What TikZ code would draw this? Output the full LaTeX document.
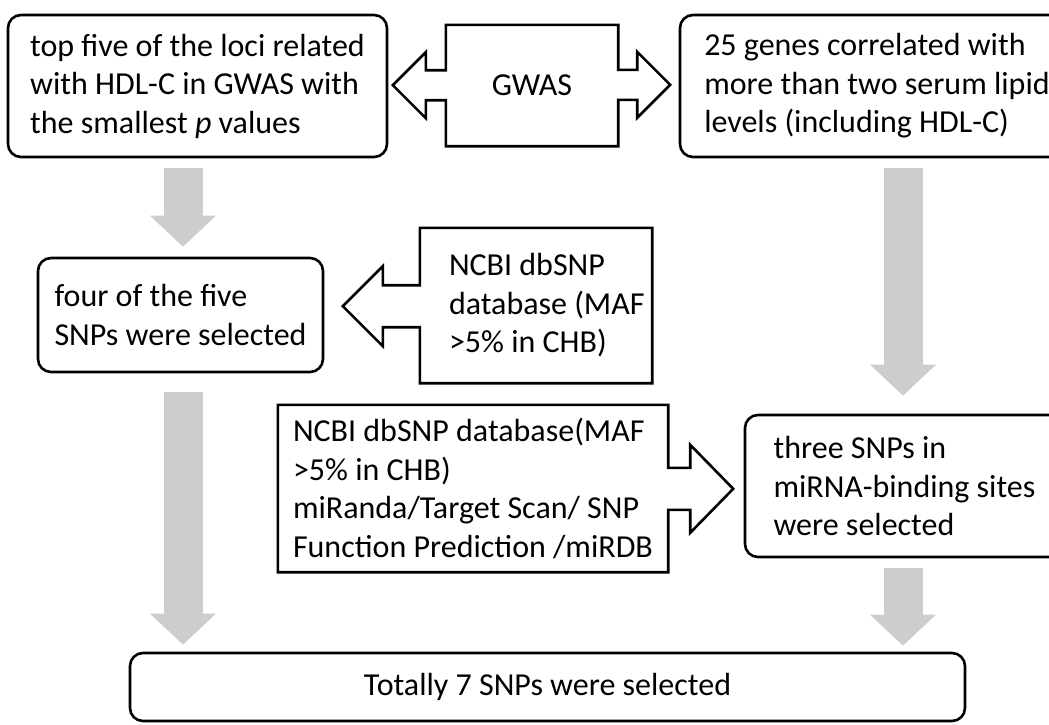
\documentclass[tikz,border=0pt]{standalone}
\usepackage{fontspec}
\setmainfont{Carlito}
\usepackage{xcolor}
\usetikzlibrary{arrows.meta}
\definecolor{arrowgray}{RGB}{205,205,205}

\begin{document}
\begin{tikzpicture}[
		x=1pt, y=-1pt,
		stepbox/.style={
			draw,
			line width=2.6pt,
			rounded corners=13pt,
			align=left,
			inner sep=0pt,
			font=\fontsize{32}{38.5}\selectfont
		},
		calltext/.style={align=left, inner sep=0pt, font=\fontsize{32}{38.5}\selectfont},
		calloutline/.style={draw, line width=2.6pt},
		grayarrow/.style={draw=arrowgray, line width=39pt, -{Triangle[length=31pt,width=64pt]}}
	]
		\useasboundingbox (0,0) rectangle (1049,724);

		% rounded boxes
		\node[stepbox, minimum width=379pt, minimum height=142pt] (topfive) at (197.5,86) {top five of the loci related\\with HDL-C in GWAS with\\the smallest \textit{p} values};
		\node[stepbox, minimum width=394pt, minimum height=142pt] (genes) at (877,86) {25 genes correlated with\\more than two serum lipid\\levels (including HDL-C)};
		\node[stepbox, minimum width=285pt, minimum height=114pt] (fourfive) at (180.5,315) {four of the five\\SNPs were selected};
		\node[stepbox, minimum width=319pt, minimum height=142pt] (three) at (904.5,486) {three SNPs in\\miRNA-binding sites\\were selected};
		\node[stepbox, align=center, minimum width=835pt, minimum height=68pt] (total) at (547.5,687) {Totally 7 SNPs were selected};

		% callout bodies
		\node[calltext, minimum width=172pt, minimum height=121pt] (gwas) at (532,85.5) {GWAS};
		\node[inner sep=0pt, minimum width=232pt, minimum height=155pt] (ncbia) at (536,305.5) {};
		\node[calltext, anchor=west] (ncbiatext) at ([xshift=29pt]ncbia.west) {NCBI dbSNP\\database (MAF\\>5\% in CHB)};
		\node[inner sep=0pt, minimum width=390pt, minimum height=167pt] (ncbib) at (473,488.5) {};
		\node[calltext, anchor=west] (ncbibtext) at ([xshift=15pt]ncbib.west) {NCBI dbSNP database(MAF\\>5\% in CHB)\\miRanda/Target Scan/ SNP\\Function Prediction /miRDB};

		% callout outlines
		\draw[calloutline] (gwas.north west) -- (gwas.north east) -- ++(0,45) -- ++(19,0) -- ++(0,-18) -- ++(33,33) -- ++(-33,33) -- ++(0,-18) -- ++(-19,0)
			-- (gwas.south east) -- (gwas.south west) -- ++(0,-46) -- ++(-20,0) -- ++(0,18) -- ++(-33,-33) -- ++(33,-33) -- ++(0,18) -- ++(20,0) -- cycle;
		\draw[calloutline] (ncbia.north west) -- (ncbia.north east) -- (ncbia.south east) -- (ncbia.south west)
			-- ++(0,-56) -- ++(-37,0) -- ++(0,19) -- ++(-40,-40) -- ++(40,-40) -- ++(0,19) -- ++(37,0) -- cycle;
		\draw[calloutline] (ncbib.north west) -- (ncbib.north east) -- ++(0,63) -- ++(22,0) -- ++(0,-23) -- ++(43,44) -- ++(-43,44) -- ++(0,-23) -- ++(-22,0)
			-- (ncbib.south east) -- (ncbib.south west) -- cycle;

		% gray arrows
		\coordinate (leftcol) at (183,0);
		\coordinate (rightcol) at (903,0);
		\draw[grayarrow, shorten <=10pt, shorten >=10pt] (topfive.south -| leftcol) -- (fourfive.north -| leftcol);
		\draw[grayarrow, shorten <=19pt, shorten >=7pt] (fourfive.south -| leftcol) -- (total.north -| leftcol);
		\draw[grayarrow, shorten <=10pt, shorten >=18pt] (genes.south -| rightcol) -- (three.north -| rightcol);
		\draw[grayarrow, shorten <=10pt, shorten >=6pt] (three.south -| rightcol) -- (total.north -| rightcol);
	\end{tikzpicture}
\end{document}
